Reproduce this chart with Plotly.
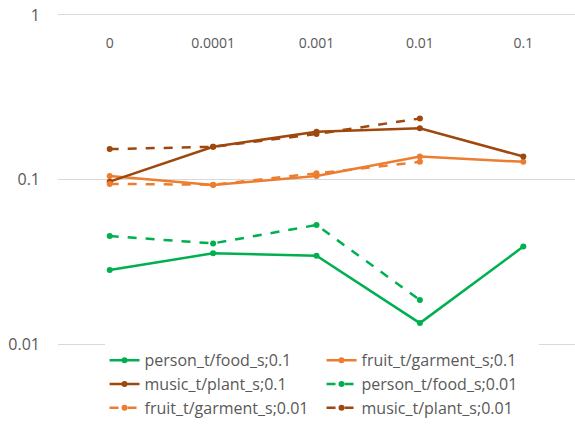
import plotly.graph_objects as go

categories = ["0", "0.0001", "0.001", "0.01", "0.1"]

person_01 = [0.0282, 0.0356, 0.0344, 0.0134, 0.0391]
fruit_01 = [0.105, 0.0926, 0.105, 0.138, 0.128]
music_01 = [0.097, 0.158, 0.195, 0.205, 0.138]
person_001 = [0.0453, 0.0409, 0.0529, 0.0185, None]
fruit_001 = [0.094, 0.093, 0.109, 0.128, None]
music_001 = [0.153, 0.158, 0.189, 0.235, None]

GREEN = "#00B050"
ORANGE = "#ED7D31"
BROWN = "#9E480E"

series = [
    ("person_t/food_s;0.1", person_01, GREEN, "solid"),
    ("fruit_t/garment_s;0.1", fruit_01, ORANGE, "solid"),
    ("music_t/plant_s;0.1", music_01, BROWN, "solid"),
    ("person_t/food_s;0.01", person_001, GREEN, "dash"),
    ("fruit_t/garment_s;0.01", fruit_001, ORANGE, "dash"),
    ("music_t/plant_s;0.01", music_001, BROWN, "dash"),
]

fig = go.Figure()
for name, vals, color, dash in series:
    fig.add_trace(go.Scatter(
        x=categories, y=vals, name=name, mode="lines+markers",
        line=dict(color=color, width=2.5, dash=dash),
        marker=dict(color=color, size=6),
        cliponaxis=False,
    ))

fig.update_layout(
    width=575, height=431,
    margin=dict(l=58, r=0, t=13, b=85, autoexpand=False),
    paper_bgcolor="white", plot_bgcolor="white",
    font=dict(family="Open Sans, Liberation Sans, sans-serif", color="#595959", size=14),
    showlegend=True,
    legend=dict(
        orientation="h", x=0.09, xanchor="left", y=0.008, yanchor="top",
        entrywidth=172, entrywidthmode="pixels",
        font=dict(size=16, color="#595959"),
        tracegroupgap=0, itemwidth=30,
    ),
    xaxis=dict(
        type="category", side="top", anchor="free", position=0.885,
        showgrid=False, showline=False, zeroline=False,
        range=[-0.5, 4.5], ticks="", tickfont=dict(size=14, color="#595959"),
    ),
    yaxis=dict(
        type="log", range=[-2.012, 0.012],
        tickvals=[0.01, 0.1, 1], ticktext=["0.01", "0.1", "1"],
        showgrid=True, gridcolor="#D9D9D9", gridwidth=1,
        showline=False, zeroline=False, ticks="",
        tickfont=dict(size=16, color="#595959"),
        ticklabelstandoff=17,
    ),
)

fig.write_html("out.html")
